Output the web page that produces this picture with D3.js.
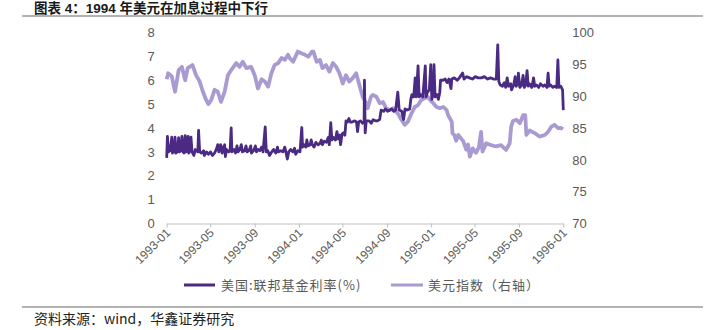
<!DOCTYPE html>
<html>
<head>
<meta charset="utf-8">
<script src="https://cdnjs.cloudflare.com/ajax/libs/d3/7.8.5/d3.min.js"></script>
<style>
  html, body { margin: 0; padding: 0; background: #fff; }
  svg { display: block; }
</style>
</head>
<body>
<svg id="chart" width="726" height="330"></svg>
<script>
// ---------- DATA ----------
const titleText = "图表 4：1994 年美元在加息过程中下行";
const sourceText = "资料来源：wind，华鑫证券研究";
const seriesNames = ["美国:联邦基金利率(%)", "美元指数（右轴）"];
const xTickLabels = ["1993-01","1993-05","1993-09","1994-01","1994-05","1994-09","1995-01","1995-05","1995-09","1996-01"];
const leftTicks = [0,1,2,3,4,5,6,7,8];
const rightTicks = [70,75,80,85,90,95,100];

// 美国:联邦基金利率(%) (left axis)
const fedDates = [
"1993-01-01","1993-01-03","1993-01-06","1993-01-11","1993-01-15","1993-01-17","1993-01-21","1993-01-24","1993-01-26","1993-01-30",
"1993-02-03","1993-02-05","1993-02-09","1993-02-12","1993-02-15","1993-02-18","1993-02-21","1993-02-24","1993-02-27","1993-03-01",
"1993-03-03","1993-03-06","1993-03-09","1993-03-12","1993-03-17","1993-03-21","1993-03-28","1993-03-30","1993-04-02","1993-04-07",
"1993-04-13","1993-04-15","1993-04-21","1993-04-26","1993-05-02","1993-05-07","1993-05-13","1993-05-18","1993-05-22","1993-05-25",
"1993-05-30","1993-06-03","1993-06-07","1993-06-10","1993-06-12","1993-06-15","1993-06-21","1993-06-25","1993-06-28","1993-06-30",
"1993-07-06","1993-07-10","1993-07-14","1993-07-17","1993-07-22","1993-07-26","1993-07-29","1993-08-04","1993-08-08","1993-08-11",
"1993-08-16","1993-08-21","1993-08-23","1993-08-29","1993-09-03","1993-09-06","1993-09-10","1993-09-15","1993-09-20","1993-09-24",
"1993-09-30","1993-10-03","1993-10-07","1993-10-12","1993-10-18","1993-10-23","1993-10-29","1993-11-03","1993-11-05","1993-11-12",
"1993-11-18","1993-11-23","1993-11-26","1993-11-30","1993-12-04","1993-12-09","1993-12-15","1993-12-20","1993-12-23","1993-12-29",
"1994-01-04","1994-01-09","1994-01-11","1994-01-15","1994-01-20","1994-01-23","1994-01-26","1994-02-01","1994-02-04","1994-02-07",
"1994-02-12","1994-02-17","1994-02-23","1994-02-28","1994-03-04","1994-03-07","1994-03-12","1994-03-18","1994-03-23","1994-03-26",
"1994-03-30","1994-04-02","1994-04-06","1994-04-12","1994-04-16","1994-04-19","1994-04-23","1994-04-26","1994-04-30","1994-05-04",
"1994-05-08","1994-05-11","1994-05-15","1994-05-19","1994-05-23","1994-05-28","1994-06-04","1994-06-09","1994-06-12","1994-06-15",
"1994-06-20","1994-06-26","1994-06-30","1994-07-01","1994-07-03","1994-07-06","1994-07-14","1994-07-20","1994-07-25","1994-07-31",
"1994-08-06","1994-08-12","1994-08-16","1994-08-23","1994-08-28","1994-09-03","1994-09-09","1994-09-14","1994-09-20","1994-09-25",
"1994-10-01","1994-10-05","1994-10-12","1994-10-17","1994-10-21","1994-10-27","1994-11-03","1994-11-06","1994-11-09","1994-11-14",
"1994-11-18","1994-11-21","1994-11-26","1994-11-29","1994-12-03","1994-12-09","1994-12-16","1994-12-18","1994-12-22","1994-12-27",
"1994-12-31","1995-01-03","1995-01-07","1995-01-09","1995-01-12","1995-01-17","1995-01-21","1995-01-25","1995-01-27","1995-02-03",
"1995-02-09","1995-02-14","1995-02-19","1995-02-25","1995-02-27","1995-03-06","1995-03-14","1995-03-20","1995-03-29","1995-04-02",
"1995-04-09","1995-04-17","1995-04-25","1995-05-03","1995-05-11","1995-05-20","1995-05-28","1995-06-06","1995-06-14","1995-06-22",
"1995-06-30","1995-07-04","1995-07-07","1995-07-11","1995-07-17","1995-07-22","1995-07-26","1995-07-30","1995-08-03","1995-08-09",
"1995-08-11","1995-08-17","1995-08-21","1995-08-24","1995-08-28","1995-08-30","1995-09-03","1995-09-08","1995-09-12","1995-09-15",
"1995-09-19","1995-09-23","1995-09-26","1995-09-30","1995-10-06","1995-10-11","1995-10-14","1995-10-19","1995-10-25","1995-10-30",
"1995-11-06","1995-11-11","1995-11-17","1995-11-20","1995-11-23","1995-11-27","1995-12-03","1995-12-08","1995-12-14","1995-12-17",
"1995-12-20","1995-12-25","1995-12-30","1996-01-01"
];
const fedRate = [
2.75,3.65,3.0,3.05,3.62,2.95,3.05,3.62,2.95,3.0,
3.6,3.0,3.05,3.65,3.0,2.95,3.68,3.0,3.05,3.65,
2.95,3.05,3.62,3.0,2.85,3.1,3.0,3.9,3.0,2.95,
3.05,2.85,3.0,2.9,3.0,2.85,2.95,3.1,3.3,3.0,
3.3,2.95,3.2,3.3,2.8,3.1,3.0,3.05,4.0,3.0,
3.1,2.95,3.25,3.0,3.1,3.3,3.0,3.05,3.25,3.0,
3.05,3.25,2.95,3.05,3.25,3.0,3.1,3.05,3.2,3.0,
4.05,3.0,3.05,2.85,3.0,3.1,2.95,3.2,3.0,3.05,
3.0,3.2,3.0,2.7,3.0,3.1,3.0,3.15,2.9,3.05,
3.0,4.02,3.2,3.3,3.2,3.5,3.25,3.3,3.5,3.3,
3.2,3.4,3.3,3.35,3.5,3.3,3.45,3.4,3.6,3.3,
4.22,3.5,3.6,3.5,3.85,3.55,3.7,3.3,3.75,3.8,
3.7,4.3,4.25,4.4,4.25,4.25,4.3,4.25,3.85,4.25,
4.3,4.2,4.25,6.0,3.8,4.3,4.3,4.2,4.35,4.3,
4.3,4.35,4.75,4.7,4.8,4.7,4.75,4.8,4.7,4.75,
5.5,4.75,4.7,4.35,4.8,4.75,4.8,5.2,5.4,5.3,
6.1,5.3,6.6,5.3,5.4,5.3,6.6,5.3,5.5,5.6,
6.65,5.2,5.5,6.65,5.3,5.4,5.2,5.5,6.0,6.0,
6.05,5.9,6.05,5.65,6.05,6.1,6.0,6.1,6.3,6.05,
6.15,6.1,6.05,6.15,6.1,6.1,6.15,6.05,6.1,6.05,
6.05,7.48,5.95,5.8,5.75,5.9,5.7,6.1,5.75,5.85,
5.6,5.8,6.15,5.75,5.85,6.3,5.7,5.8,6.2,5.7,
5.8,6.4,5.75,5.85,5.7,6.1,5.75,5.8,5.7,5.85,
5.75,5.8,5.7,6.3,5.75,5.8,5.7,5.75,5.7,6.85,
5.7,5.75,5.6,4.75
];

// 美元指数 (right axis)
const dxyDates = [
"1993-01-01","1993-01-05","1993-01-15","1993-01-24","1993-02-03","1993-02-12","1993-02-21","1993-02-28","1993-03-13","1993-03-23",
"1993-04-02","1993-04-11","1993-04-20","1993-04-26","1993-05-04","1993-05-13","1993-05-22","1993-05-31","1993-06-10","1993-06-19",
"1993-06-28","1993-07-12","1993-07-21","1993-07-30","1993-08-09","1993-08-22","1993-09-01","1993-09-10","1993-09-20","1993-09-29",
"1993-10-08","1993-10-17","1993-10-26","1993-11-05","1993-11-14","1993-11-23","1993-12-02","1993-12-07","1993-12-16","1993-12-29",
"1994-01-09","1994-01-18","1994-01-27","1994-02-06","1994-02-10","1994-02-19","1994-02-28","1994-03-07","1994-03-17","1994-03-26",
"1994-04-05","1994-04-14","1994-04-23","1994-05-02","1994-05-11","1994-05-20","1994-05-29","1994-06-08","1994-06-17","1994-06-26",
"1994-07-04","1994-07-10","1994-07-19","1994-07-24","1994-08-03","1994-08-12","1994-08-21","1994-08-30","1994-09-09","1994-09-18",
"1994-10-01","1994-10-11","1994-10-20","1994-10-29","1994-11-08","1994-11-17","1994-11-26","1994-12-05","1994-12-14","1994-12-23",
"1994-12-28","1995-01-07","1995-01-16","1995-01-25","1995-02-04","1995-02-13","1995-02-17","1995-02-27","1995-03-01","1995-03-06",
"1995-03-11","1995-03-17","1995-03-24","1995-03-31","1995-04-08","1995-04-13","1995-04-18","1995-04-26","1995-05-05","1995-05-13",
"1995-05-19","1995-05-23","1995-06-02","1995-06-16","1995-06-29","1995-07-13","1995-07-27","1995-08-06","1995-08-10","1995-08-15",
"1995-08-24","1995-09-03","1995-09-12","1995-09-18","1995-09-21","1995-09-30","1995-10-14","1995-10-27","1995-11-11","1995-11-20",
"1995-11-29","1995-12-08","1995-12-17","1995-12-26","1995-12-31"
];
const dxyIndex = [
92.65,93.6,93.1,90.7,94.1,94.6,92.5,94.4,94.9,93.3,
92.3,90.7,89.4,88.75,89.4,91.0,90.7,89.1,90.7,93.3,
94.1,95.2,94.6,95.4,94.4,94.6,93.3,91.2,92.65,92.3,
91.5,93.6,94.9,95.2,96.0,95.7,96.5,95.95,95.4,97.0,
96.7,96.5,96.2,97.0,97.0,95.4,95.7,94.4,94.9,93.85,
95.2,94.6,93.6,92.0,93.3,92.3,92.8,93.6,91.75,89.9,
89.1,88.1,89.9,90.2,89.9,88.9,89.1,88.1,87.8,88.1,
87.3,86.3,85.5,86.0,87.3,88.3,88.6,89.4,89.65,89.9,
89.5,88.9,88.3,88.1,88.3,87.8,87.0,86.0,84.2,83.9,
83.0,83.9,83.4,82.9,81.6,82.4,80.5,81.8,81.1,82.0,
84.4,81.3,82.6,82.3,82.1,82.3,81.55,82.6,85.2,86.1,
86.3,85.75,87.0,87.0,83.9,84.6,84.2,83.65,83.9,84.4,
85.2,85.5,85.0,85.0,84.8
];

// ---------- CHART ----------
const svg = d3.select("#chart");
const parse = d3.timeParse("%Y-%m-%d");
const parseM = d3.timeParse("%Y-%m");
const fmtM = d3.timeFormat("%Y-%m");

const colDark = "#4a2a82";
const colLight = "#a99bd2";
const txtCol = "#595959";

const x = d3.scaleTime()
  .domain([parseM("1993-01"), parseM("1996-01")])
  .range([166.7, 563.3]);
const yL = d3.scaleLinear().domain([0, 8]).range([223.5, 32.5]);
const yR = d3.scaleLinear().domain([70, 100]).range([223.5, 32.5]);

// title
svg.append("text")
  .attr("x", 34).attr("y", 13)
  .attr("font-family", "'Liberation Sans', 'Noto Sans CJK SC', sans-serif")
  .attr("font-size", 13.5).attr("font-weight", "bold")
  .attr("fill", "#1a1a1a")
  .text(titleText);

// top & bottom rules
[16, 307].forEach(yy => {
  svg.append("line")
    .attr("x1", 22).attr("x2", 703)
    .attr("y1", yy).attr("y2", yy)
    .attr("stroke", "#9a9a9a").attr("stroke-width", 1.5);
});

// left axis
const gL = svg.append("g").attr("transform", "translate(166.7,0)")
  .call(d3.axisLeft(yL).tickValues(leftTicks).tickSize(0).tickPadding(12).tickFormat(d3.format("d")));
gL.select(".domain").remove();
gL.selectAll("text").attr("fill", txtCol).attr("font-size", 13)
  .attr("font-family", "'Liberation Sans', Arial, sans-serif");

// right axis
const gR = svg.append("g").attr("transform", "translate(563.3,0)")
  .call(d3.axisRight(yR).tickValues(rightTicks).tickSize(0).tickPadding(9).tickFormat(d3.format("d")));
gR.select(".domain").remove();
gR.selectAll("text").attr("fill", txtCol).attr("font-size", 13)
  .attr("font-family", "'Liberation Sans', Arial, sans-serif");

// bottom axis
const gX = svg.append("g").attr("transform", "translate(0,223.5)")
  .call(d3.axisBottom(x)
    .tickValues(xTickLabels.map(parseM))
    .tickSizeInner(4).tickSizeOuter(0)
    .tickFormat(fmtM));
gX.select(".domain").attr("stroke", "#bfbfbf");
gX.selectAll(".tick line").attr("stroke", "#bfbfbf");
gX.selectAll(".tick text")
  .attr("fill", txtCol).attr("font-size", 12)
  .attr("font-family", "'Liberation Sans', Arial, sans-serif")
  .attr("text-anchor", "end")
  .attr("dy", null)
  .attr("y", 0)
  .attr("transform", "translate(4,10) rotate(-45)");

// lines
const dxyData = dxyDates.map((d, i) => ({ date: parse(d), value: dxyIndex[i] }));
const fedData = fedDates.map((d, i) => ({ date: parse(d), value: fedRate[i] }));

svg.append("path")
  .datum(dxyData)
  .attr("fill", "none")
  .attr("stroke", colLight)
  .attr("stroke-width", 3.8)
  .attr("stroke-linejoin", "round")
  .attr("d", d3.line().x(d => x(d.date)).y(d => yR(d.value)));

svg.append("path")
  .datum(fedData)
  .attr("fill", "none")
  .attr("stroke", colDark)
  .attr("stroke-width", 2.8)
  .attr("stroke-linejoin", "round")
  .attr("d", d3.line().x(d => x(d.date)).y(d => yL(d.value)));

// legend
const legend = [
  { name: seriesNames[0], color: colDark, x1: 184, x2: 215, tx: 221 },
  { name: seriesNames[1], color: colLight, x1: 391, x2: 423, tx: 428 }
];
legend.forEach(l => {
  svg.append("line").attr("x1", l.x1).attr("x2", l.x2).attr("y1", 285).attr("y2", 285)
    .attr("stroke", l.color).attr("stroke-width", 3);
  svg.append("text").attr("x", l.tx).attr("y", 290)
    .attr("font-family", "'Noto Sans CJK SC', sans-serif")
    .attr("font-size", 13).attr("letter-spacing", 1)
    .attr("fill", txtCol)
    .text(l.name);
});

// source
svg.append("text")
  .attr("x", 34).attr("y", 324)
  .attr("font-family", "'Noto Sans CJK SC', sans-serif")
  .attr("font-size", 14)
  .attr("fill", "#222")
  .text(sourceText);
</script>
</body>
</html>
